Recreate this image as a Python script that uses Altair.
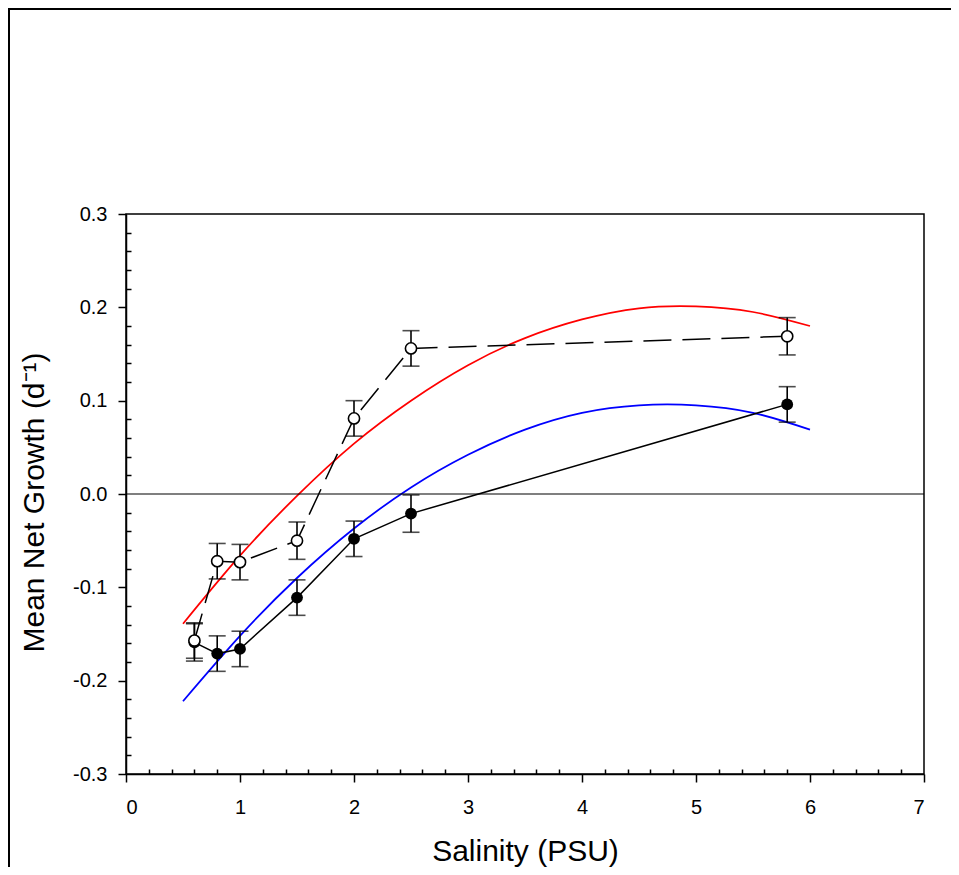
import altair as alt
import pandas as pd

# ---------------- data ----------------
open_x = [0.6, 0.8, 1.0, 1.5, 2.0, 2.5, 5.8]
open_y = [-0.157, -0.072, -0.073, -0.050, 0.081, 0.156, 0.169]
open_err = [0.019, 0.019, 0.019, 0.020, 0.019, 0.019, 0.020]

filled_x = [0.6, 0.8, 1.0, 1.5, 2.0, 2.5, 5.8]
filled_y = [-0.159, -0.171, -0.166, -0.111, -0.048, -0.021, 0.096]
filled_err = [0.020, 0.019, 0.019, 0.019, 0.019, 0.020, 0.019]

curve_x = [0.5, 1.0, 1.5, 2.0, 2.5, 3.0, 3.5, 4.0, 4.5, 5.0, 5.5, 6.0]
red_y = [-0.139, -0.066, -0.002, 0.054, 0.100, 0.138, 0.167, 0.187, 0.199, 0.201, 0.195, 0.180]
blue_y = [-0.222, -0.152, -0.090, -0.037, 0.007, 0.042, 0.069, 0.087, 0.095, 0.095, 0.087, 0.069]

zero_line = [0.0]

x_ticks = [0, 1, 2, 3, 4, 5, 6, 7]
y_ticks = [-0.3, -0.2, -0.1, 0.0, 0.1, 0.2, 0.3]
x_minor = [round(0.2 * i, 2) for i in range(36) if i % 5 != 0]
y_minor = [round(-0.3 + 0.02 * i, 2) for i in range(31) if i % 5 != 0]

FONT = "Liberation Sans, Arial, sans-serif"

open_df = pd.DataFrame({"x": open_x, "y": open_y, "err": open_err})
open_df["lo"] = open_df["y"] - open_df["err"]
open_df["hi"] = open_df["y"] + open_df["err"]
filled_df = pd.DataFrame({"x": filled_x, "y": filled_y, "err": filled_err})
filled_df["lo"] = filled_df["y"] - filled_df["err"]
filled_df["hi"] = filled_df["y"] + filled_df["err"]
red_df = pd.DataFrame({"x": curve_x, "y": red_y})
blue_df = pd.DataFrame({"x": curve_x, "y": blue_y})
zero_df = pd.DataFrame({"y": zero_line})

xs = alt.Scale(domain=[0, 7], nice=False, zero=False)
ys = alt.Scale(domain=[-0.3, 0.3], nice=False, zero=False)

x_main_axis = alt.Axis(
    orient="bottom", values=x_ticks, format="d", tickSize=8, labelPadding=15,
    title="Salinity (PSU)", titleY=86, titleBaseline="alphabetic",
)
y_main_axis = alt.Axis(
    orient="left", values=y_ticks, tickSize=8, labelPadding=11,
    labelExpr="replace(format(datum.value, '.1f'), '\u2212', '-')",
    title="Mean Net Growth (d\u207b\u00b9)", titleX=-83, titleY=288,
    titleAngle=270, titleBaseline="alphabetic",
)
x_minor_axis = alt.Axis(orient="bottom", values=x_minor, tickSize=5, offset=-5,
                        domain=False, labels=False, title=None)
y_minor_axis = alt.Axis(orient="left", values=y_minor, tickSize=5, offset=-5,
                        domain=False, labels=False, title=None)

def X(field="x", axis=None):
    return alt.X(f"{field}:Q", scale=xs, axis=axis)

def Y(field="y", axis=None):
    return alt.Y(f"{field}:Q", scale=ys, axis=axis)

red = alt.Chart(red_df).mark_line(color="#ff0000", strokeWidth=1.75, interpolate="natural").encode(
    x=X(axis=x_main_axis), y=Y(axis=y_main_axis))
blue = alt.Chart(blue_df).mark_line(color="#0000ff", strokeWidth=1.75, interpolate="natural").encode(
    x=X(axis=x_minor_axis), y=Y(axis=y_minor_axis))

zero = alt.Chart(zero_df).mark_rule(color="black", strokeWidth=1.2).encode(y=Y())

def err_layers(df):
    stem = alt.Chart(df).mark_rule(color="black", strokeWidth=1.6).encode(
        x=X(), y=Y("lo"), y2="hi:Q")
    cap_lo = alt.Chart(df).mark_tick(color="black", orient="horizontal", size=17, thickness=1.6).encode(
        x=X(), y=Y("lo"))
    cap_hi = alt.Chart(df).mark_tick(color="black", orient="horizontal", size=17, thickness=1.6).encode(
        x=X(), y=Y("hi"))
    return [stem, cap_lo, cap_hi]

filled_line = alt.Chart(filled_df).mark_line(color="black", strokeWidth=1.5).encode(x=X(), y=Y())
open_line = alt.Chart(open_df).mark_line(color="black", strokeWidth=1.5, strokeDash=[28, 11]).encode(x=X(), y=Y())

filled_pts = alt.Chart(filled_df).mark_point(
    shape="circle", filled=True, color="black", size=140, opacity=1).encode(x=X(), y=Y())
open_pts = alt.Chart(open_df).mark_point(
    shape="circle", filled=True, fill="white", stroke="black", strokeWidth=1.6, size=125, opacity=1).encode(x=X(), y=Y())

frame_data = alt.Data(values=[{"a": 1}])
frame_v = alt.Chart(frame_data).mark_rule(color="black", strokeWidth=2).encode(
    x=alt.value(-117), y=alt.value(-206), y2=alt.value(653))
frame_h = alt.Chart(frame_data).mark_rule(color="black", strokeWidth=2).encode(
    y=alt.value(-205), x=alt.value(-118), x2=alt.value(825))

chart = alt.layer(
    red, blue, zero,
    *err_layers(filled_df), *err_layers(open_df),
    filled_line, open_line, filled_pts, open_pts,
    frame_v, frame_h,
).resolve_axis(
    x="independent", y="independent"
).properties(
    width=798, height=560,
    autosize=alt.AutoSizeParams(type="none"),
    padding={"left": 118, "top": 206, "right": 27, "bottom": 93},
).configure_view(
    stroke="black", strokeWidth=1.5
).configure_axis(
    domainColor="black", tickColor="black", labelColor="black", titleColor="black",
    domainWidth=1.5, tickWidth=1.5, grid=False,
    labelFont=FONT, titleFont=FONT, labelFontSize=20, titleFontSize=30,
    titleFontWeight="normal",
)

chart.save("out.html", embed_options={"renderer": "svg", "actions": False})
